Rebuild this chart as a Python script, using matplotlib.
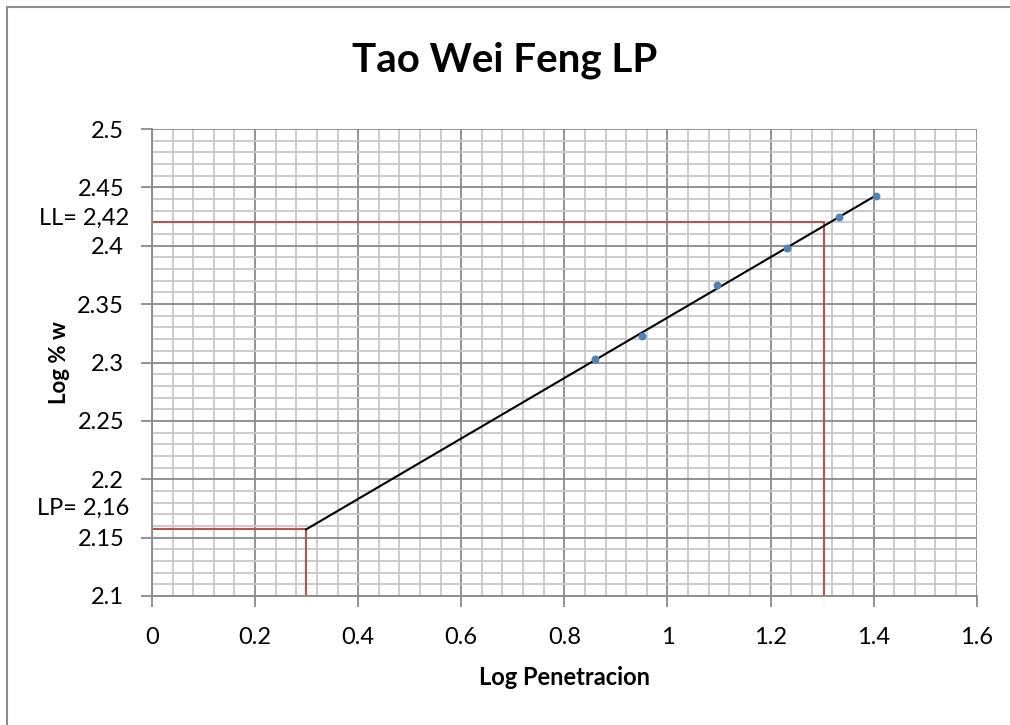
import matplotlib.pyplot as plt
import numpy as np
from matplotlib.patches import Rectangle

# data
log_pen = [0.859, 0.951, 1.096, 1.232, 1.332, 1.404]
log_w = [2.303, 2.323, 2.366, 2.398, 2.425, 2.443]

fit_x = [0.299, 1.404]
fit_y = [2.157, 2.443]

lp_x, lp_y = 0.298, 2.157
ll_x, ll_y = 1.304, 2.420

x_ticks = [0, 0.2, 0.4, 0.6, 0.8, 1, 1.2, 1.4, 1.6]
x_labels = ["0", "0.2", "0.4", "0.6", "0.8", "1", "1.2", "1.4", "1.6"]
y_ticks = [2.1, 2.15, 2.2, 2.25, 2.3, 2.35, 2.4, 2.45, 2.5]
y_labels = ["2.1", "2.15", "2.2", "2.25", "2.3", "2.35", "2.4", "2.45", "2.5"]

plt.rcParams['font.family'] = ['Lato', 'DejaVu Sans']

fig = plt.figure(figsize=(10.1, 7.25), dpi=100)
ax = fig.add_axes([0.1505, 0.178, 0.8165, 0.644])

# outer chart border (only top/left visible in the crop)
fig.patches.append(Rectangle((7 / 1010, -0.1), 1.2, 1 - 7 / 725 + 0.1,
                             transform=fig.transFigure, fill=False,
                             edgecolor="#8c8c8c", linewidth=1.5))

ax.set_xlim(0, 1.6)
ax.set_ylim(2.1, 2.5)
ax.set_xticks(x_ticks)
ax.set_xticklabels(x_labels)
ax.set_yticks(y_ticks)
ax.set_yticklabels(y_labels)
ax.set_xticks(np.arange(0, 1.6001, 0.04), minor=True)
ax.set_yticks(np.arange(2.1, 2.5001, 0.01), minor=True)

ax.grid(which="minor", color="#c8c8c8", linewidth=1.3)
ax.grid(which="major", color="#8a8a8a", linewidth=1.3)
ax.set_axisbelow(True)

ax.tick_params(axis="y", which="major", pad=12)
ax.tick_params(axis="x", which="major", pad=14)
ax.tick_params(which="major", direction="out", length=8, width=1.3,
               color="#8a8a8a", labelsize=17)
ax.tick_params(which="minor", length=0)
for s in ax.spines.values():
    s.set_color("#8a8a8a")
    s.set_linewidth(1.3)
ax.spines["top"].set_visible(False)
ax.spines["right"].set_visible(False)

# red guide lines
red = "#c0504d"
ax.plot([0, lp_x, lp_x], [lp_y, lp_y, 2.1], color=red, linewidth=1.5)
ax.plot([0, ll_x, ll_x], [ll_y, ll_y, 2.1], color=red, linewidth=1.5)

ax.plot(fit_x, fit_y, color="black", linewidth=1.5)
ax.scatter(log_pen, log_w, s=22, color="#4f81bd", zorder=3)

ax.text(-0.044, 2.4235, "LL= 2,42", ha="right", va="center", fontsize=17,
        clip_on=False)
ax.text(-0.044, 2.175, "LP= 2,16", ha="right", va="center", fontsize=17,
        clip_on=False)

ax.set_xlabel("Log Penetracion", fontsize=17, fontweight="bold", labelpad=13)
fig.text(60 / 1010, 0.5, "Log % w", rotation=90, ha="center", va="center",
         fontsize=16, fontweight="bold")
fig.text(0.5, 0.917, "Tao Wei Feng LP", ha="center", va="center",
         fontsize=29, fontweight="bold")

fig.savefig("out.png", dpi=100)
